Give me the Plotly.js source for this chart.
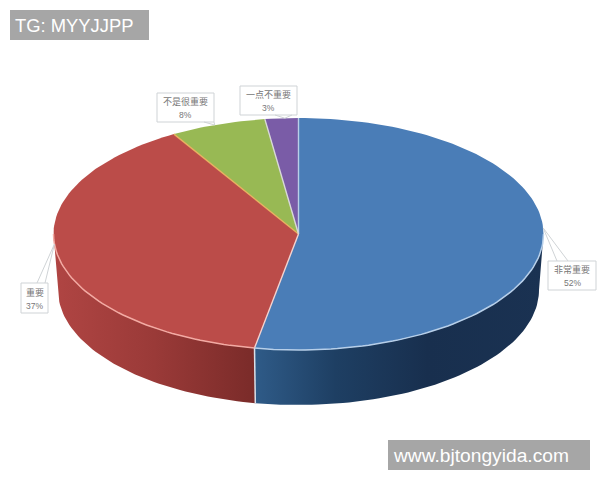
<!DOCTYPE html>
<html>
<head>
<meta charset="utf-8">
<script src="https://cdn.plot.ly/plotly-3.0.1.min.js"></script>
<style>html,body{margin:0;padding:0;background:#fff}#chart{width:600px;height:480px}</style>
</head>
<body>
<div id="chart"></div>
<script>
const categories = ['非常重要', '重要', '不是很重要', '一点不重要'];
const shares = [52.1, 36.5, 8.4, 3.0];
const topColors = ['#4a7db7', '#bb4c49', '#98b954', '#7a5ca7'];
const seamColors = ['#b9cfe8', '#f3d3cf', '#e8b060', '#d8d8d8'];
const rimColors = ['#b7cfe9', '#f3aaa3'];
const sideScales = [
  [[0, '#2f5b88'], [0.28, '#1e3f63'], [0.6, '#182f4e'], [1, '#1a3252']],
  [[0, '#b04543'], [0.5, '#9a3a38'], [1, '#7a2b29']]
];

const T = {cx: 298.5, cy: 234, rx: 245, ry: 116};
const B = {cx: 298.5, cy: 290, rx: 240.5, ry: 115};
const persp = 0.73;              // Excel-style perspective squeeze of the far side

function warp(pct) {             // share position (0-100) → ellipse angle, degrees from 12 o'clock
  const th = pct * 3.6;
  if (pct <= 0) return 0;
  if (pct >= 100) return 360;
  let t = 2 * Math.atan(persp * Math.tan(th * Math.PI / 360)) * 180 / Math.PI;
  if (t < 0) t += 360;
  return t;
}
function pt(e, deg) {
  const r = deg * Math.PI / 180;
  return [e.cx + e.rx * Math.sin(r), e.cy - e.ry * Math.cos(r)];
}
function arc(e, a, b) {
  const n = Math.max(2, Math.ceil(Math.abs(b - a) / 1.5));
  const out = [];
  for (let i = 0; i <= n; i++) out.push(pt(e, a + (b - a) * i / n));
  return out;
}
const traces = [];
function poly(points, extra) {
  traces.push(Object.assign({
    type: 'scatter', mode: 'lines', hoverinfo: 'skip', showlegend: false,
    x: points.map(p => p[0]), y: points.map(p => p[1])
  }, extra));
}

// slice bounds
let cum = 0;
const bounds = shares.map(v => { const s = cum; cum += v; return [warp(s), warp(cum)]; });

// visible sides (front half of the ellipse only)
[0, 1].forEach(i => {
  const a = Math.max(bounds[i][0], 90), b = Math.min(bounds[i][1], 270);
  const pts = arc(T, a, b).concat(arc(B, b, a));
  pts.push(pts[0]);
  const xs = pts.map(p => p[0]);
  poly(pts, {
    fill: 'toself', line: {width: 0, color: 'rgba(0,0,0,0)'},
    fillgradient: {
      type: 'horizontal',
      colorscale: sideScales[i],
      start: Math.min(...xs),
      stop: Math.max(...xs)
    }
  });
});

// top faces
bounds.forEach((b, i) => {
  const pts = [[T.cx, T.cy]].concat(arc(T, b[0], b[1]));
  pts.push([T.cx, T.cy]);
  poly(pts, {fill: 'toself', fillcolor: topColors[i], line: {width: 0, color: topColors[i]}});
});
// seams between slices on the top face
bounds.forEach((b, i) => {
  poly([[T.cx, T.cy], pt(T, b[0])], {line: {width: 1.4, color: seamColors[i]}});
});
// front rim + seam on the side
poly(arc(T, 90, bounds[0][1]), {line: {width: 1.5, color: rimColors[0]}});
poly(arc(T, bounds[0][1], 270), {line: {width: 1.5, color: rimColors[1]}});
poly([pt(T, bounds[0][1]), pt(B, bounds[0][1])], {line: {width: 1.5, color: '#d9dfe8'}});

// callouts
const boxes = [
  {x0: 548, x1: 596, y0: 261, y1: 290, tip: 87,  base: [557, 568]},
  {x0: 21,  x1: 48,  y0: 283, y1: 313, tip: 265, base: [37, 45]},
  {x0: 157, x1: 214, y0: 93,  y1: 122, tip: 340, base: [204, 214]},
  {x0: 240, x1: 297, y0: 86,  y1: 115, tip: 356.8, base: [275, 292]}
];
const shapes = [];
const annotations = [];
boxes.forEach((bx, i) => {
  const tip = pt(T, bx.tip);
  shapes.push({type: 'rect', x0: bx.x0, x1: bx.x1, y0: bx.y0, y1: bx.y1,
    fillcolor: '#ffffff', line: {color: '#cfd3d6', width: 1}, layer: 'above'});
  const edgeY = tip[1] < bx.y0 ? bx.y0 : bx.y1;
  shapes.push({type: 'path',
    path: `M ${bx.base[0]} ${edgeY} L ${tip[0]} ${tip[1]} L ${bx.base[1]} ${edgeY}`,
    line: {color: '#cfd3d6', width: 1}, layer: 'above'});
  const mx = (bx.x0 + bx.x1) / 2, my = (bx.y0 + bx.y1) / 2;
  annotations.push({
    x: mx, y: my - 6, xref: 'x', yref: 'y', showarrow: false,
    xanchor: 'center', yanchor: 'middle', borderpad: 0, text: categories[i],
    font: {family: '"Noto Sans CJK SC", sans-serif', size: 9, color: '#777777'}
  });
  annotations.push({
    x: mx, y: my + 7.5, xref: 'x', yref: 'y', showarrow: false,
    xanchor: 'center', yanchor: 'middle', borderpad: 0, text: `${Math.round(shares[i])}%`,
    font: {family: 'Liberation Sans, Arial, sans-serif', size: 8.5, color: '#777777'}
  });
});

// watermarks
const marks = [
  {text: 'TG: MYYJJPP', x0: 10, x1: 149, y0: 10, y1: 40, tx: 13, size: 18.4},
  {text: 'www.bjtongyida.com', x0: 388, x1: 590, y0: 440, y1: 470, tx: 391, size: 19.2}
];
marks.forEach(m => {
  shapes.push({type: 'rect', x0: m.x0, x1: m.x1, y0: m.y0, y1: m.y1,
    fillcolor: '#a6a6a6', line: {width: 0}, layer: 'above'});
  annotations.push({
    x: m.tx, y: (m.y0 + m.y1) / 2, xref: 'x', yref: 'y', showarrow: false,
    xanchor: 'left', yanchor: 'middle', text: m.text,
    font: {family: 'Liberation Sans, Arial, sans-serif', size: m.size, color: '#ffffff'}
  });
});

Plotly.newPlot('chart', traces, {
  width: 600, height: 480,
  margin: {l: 0, r: 0, t: 0, b: 0},
  paper_bgcolor: '#ffffff', plot_bgcolor: '#ffffff',
  showlegend: false, hovermode: false,
  xaxis: {range: [0, 600], visible: false, fixedrange: true},
  yaxis: {range: [480, 0], visible: false, fixedrange: true},
  shapes, annotations
}, {displayModeBar: false, staticPlot: true});
</script>
</body>
</html>
